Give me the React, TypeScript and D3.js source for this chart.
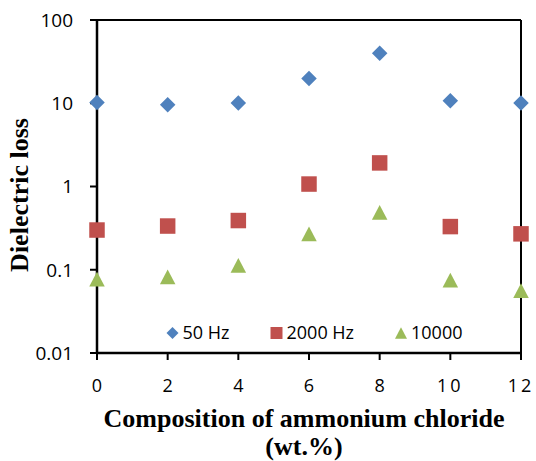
import { useMemo } from 'react';
import * as d3 from 'd3';

// composition of ammonium chloride (wt.%)
const compositions = [0, 2, 4, 6, 8, 10, 12];
const loss50Hz = [10.2, 9.6, 10.1, 19.8, 40, 10.7, 10.1];
const loss2000Hz = [0.3, 0.335, 0.39, 1.07, 1.92, 0.33, 0.27];
const loss10000 = [0.077, 0.082, 0.113, 0.27, 0.49, 0.075, 0.056];

const xTicks = [0, 2, 4, 6, 8, 10, 12];
const yTicks = [0.01, 0.1, 1, 10, 100];
const yTickLabels = ['0.01', '0.1', '1', '10', '100'];

const seriesNames = ['50 Hz', '2000 Hz', '10000'];
const seriesColors = ['#4F81BD', '#C0504D', '#9BBB59'];
const seriesShapes = [d3.symbolDiamond, d3.symbolSquare, d3.symbolTriangle];

const W = 536;
const H = 461;
const left = 97, right = 521, top = 20, bottom = 353;

function marker(shape: d3.SymbolType, w: number) {
  // size so that the marker's bounding box is about w px wide
  if (shape === d3.symbolSquare) return d3.symbol(shape, w * w)();
  if (shape === d3.symbolDiamond) {
    // d3 diamond is taller than wide; build our own square diamond
    const r = w / 2;
    return `M0,${-r}L${r},0L0,${r}L${-r},0Z`;
  }
  const h = w * 0.95;
  return `M0,${-h / 2}L${w / 2},${h / 2}L${-w / 2},${h / 2}Z`;
}

export default function App() {
  const x = useMemo(() => d3.scaleLinear().domain([0, 12]).range([left, right]), []);
  const y = useMemo(() => d3.scaleLog().domain([0.01, 100]).range([bottom, top]), []);

  const series = [loss50Hz, loss2000Hz, loss10000];
  const numFont = '"Open Sans", "Noto Sans", sans-serif';
  const titleFont = '"Liberation Serif", "Times New Roman", serif';

  const legendX = [172.5, 276.5, 401];

  return (
    <svg width={W} height={H} style={{ position: 'absolute', left: 0, top: 0, background: '#fff' }}>
      {/* frame: top and right */}
      <line x1={left} x2={right} y1={top} y2={top} stroke="#000" strokeWidth={2} />
      <line x1={right} x2={right} y1={top} y2={bottom} stroke="#000" strokeWidth={2} />

      {/* y axis */}
      <line x1={left} x2={left} y1={top - 1} y2={bottom + 1} stroke="#000" strokeWidth={2.5} />
      {yTicks.map((t, i) => (
        <g key={t}>
          <line x1={left - 7} x2={left} y1={y(t)} y2={y(t)} stroke="#000" strokeWidth={2} />
          <text x={73} y={y(t)} dy="0.36em" textAnchor="end" fontFamily={numFont} fontSize={19} fill="#000">
            {yTickLabels[i]}
          </text>
        </g>
      ))}

      {/* x axis */}
      <line x1={left - 1} x2={right + 1} y1={bottom} y2={bottom} stroke="#000" strokeWidth={2.5} />
      {xTicks.map(t => (
        <g key={t}>
          <line x1={x(t)} x2={x(t)} y1={bottom} y2={bottom + 7} stroke="#000" strokeWidth={2} />
          <text x={x(t)} y={392} textAnchor="middle" fontFamily={numFont} fontSize={18}
            letterSpacing={t >= 10 ? 3 : 0} fill="#000">
            {t}
          </text>
        </g>
      ))}

      {/* markers */}
      {series.map((vals, s) => (
        <g key={s} fill={seriesColors[s]}>
          {vals.map((v, i) => (
            <path key={i} d={marker(seriesShapes[s], 15.5) || ''}
              transform={`translate(${x(compositions[i])},${y(v)})`} />
          ))}
        </g>
      ))}

      {/* legend */}
      {seriesNames.map((n, s) => (
        <g key={n}>
          <path d={marker(seriesShapes[s], 12) || ''} fill={seriesColors[s]}
            transform={`translate(${legendX[s]},333)`} />
          <text x={legendX[s] + 10} y={333} dy="0.36em" fontFamily={numFont} fontSize={18} fill="#000">{n}</text>
        </g>
      ))}

      {/* axis titles */}
      <text transform="translate(28,195) rotate(-90)" textAnchor="middle" fontFamily={titleFont}
        fontWeight="bold" fontSize={26} fill="#000">Dielectric loss</text>
      <text x={304} y={427} textAnchor="middle" fontFamily={titleFont} fontWeight="bold" fontSize={26} fill="#000">
        Composition of ammonium chloride
      </text>
      <text x={304} y={455} textAnchor="middle" fontFamily={titleFont} fontWeight="bold" fontSize={26} fill="#000">
        (wt.%)
      </text>
    </svg>
  );
}
